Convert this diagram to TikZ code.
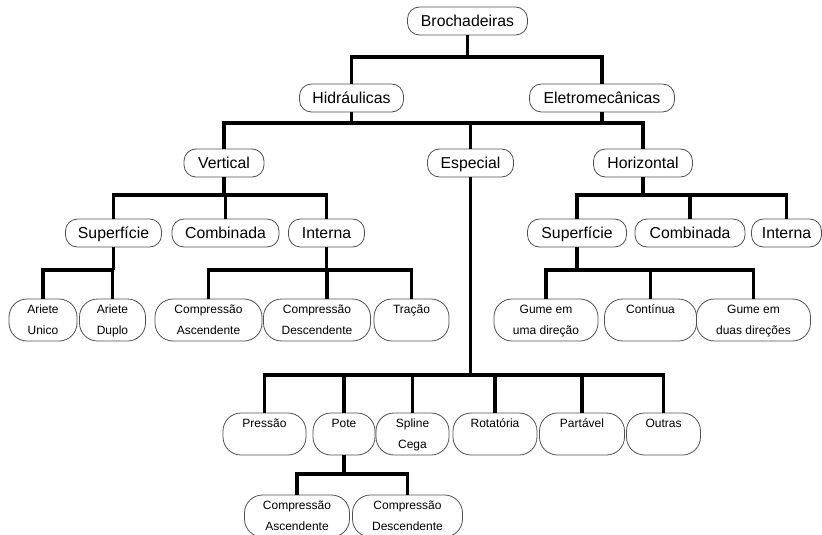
\documentclass[tikz,border=0pt]{standalone}
\usepackage{fontspec}
\setmainfont{Liberation Sans}
\definecolor{boxc}{HTML}{505050}
\newcommand\bst[1]{\rule[-8.3pt]{0pt}{28pt}#1}
\newcommand\sst[1]{\rule[-6.5pt]{0pt}{21pt}#1}
\begin{document}
\begin{tikzpicture}[x=1pt,y=-1pt,
  big/.style={draw=boxc, line width=0.8pt, rounded corners=12pt, inner sep=0pt, outer sep=0pt,
    font=\fontsize{15.8}{19}\selectfont, minimum height=28pt},
  small/.style={draw=boxc, line width=0.8pt, rounded corners=18pt, inner sep=0pt, outer sep=0pt,
    align=center, font=\fontsize{12}{21}\selectfont, minimum height=42pt},
  conn/.style={line width=3.2pt, line join=miter}]
\useasboundingbox (0,0) rectangle (822,535);
% bus levels
\coordinate (y57) at (0,57);
\coordinate (y123) at (0,123);
\coordinate (y195) at (0,195);
\coordinate (y270) at (0,270);
\coordinate (y375) at (0,375);
\coordinate (y474) at (0,474);
% level 0-2
\node[big, minimum width=120pt] (broch) at (467.5,21) {\bst{Brochadeiras}};
\node[big, minimum width=104pt] (hid) at (351.5,98) {\bst{Hidráulicas}};
\node[big, minimum width=145pt] (ele) at (602,98) {\bst{Eletromecânicas}};
\node[big, minimum width=80pt] (vert) at (224,163) {\bst{Vertical}};
\node[big, minimum width=86pt] (esp) at (470.5,163) {\bst{Especial}};
\node[big, minimum width=99pt] (hor) at (643,163) {\bst{Horizontal}};
% level 3
\node[big, minimum width=96pt] (sup1) at (113.5,233) {\bst{Superfície}};
\node[big, minimum width=107pt] (comb1) at (225.5,233) {\bst{Combinada}};
\node[big, minimum width=76pt] (int1) at (326.5,233) {\bst{Interna}};
\node[big, minimum width=99pt] (sup2) at (577,233) {\bst{Superfície}};
\node[big, minimum width=110pt] (comb2) at (690,233) {\bst{Combinada}};
\node[big, minimum width=70pt] (int2) at (786.5,233) {\bst{Interna}};
% level 4
\node[small, minimum width=68pt] (au) at (43,320) {\sst{Ariete}\\\sst{Unico}};
\node[small, minimum width=66pt] (ad) at (112.5,320) {\sst{Ariete}\\\sst{Duplo}};
\node[small, minimum width=107pt] (ca1) at (208.5,320) {\sst{Compressão}\\\sst{Ascendente}};
\node[small, minimum width=107pt] (cd1) at (317,320) {\sst{Compressão}\\\sst{Descendente}};
\node[small, minimum width=75pt] (tr) at (411.5,320) {\sst{Tração}\\\sst{}};
\node[small, minimum width=104pt] (g1) at (546,320) {\sst{Gume em}\\\sst{uma direção}};
\node[small, minimum width=92pt] (cont) at (650.5,320) {\sst{Contínua}\\\sst{}};
\node[small, minimum width=114pt] (g2) at (753.5,320) {\sst{Gume em}\\\sst{duas direções}};
% especial children
\node[small, minimum width=83pt] (pres) at (264.5,434) {\sst{Pressão}\\\sst{}};
\node[small, minimum width=62pt] (pote) at (344,434) {\sst{Pote}\\\sst{}};
\node[small, minimum width=73pt] (spl) at (412.5,434) {\sst{Spline}\\\sst{Cega}};
\node[small, minimum width=84pt] (rot) at (495,434) {\sst{Rotatória}\\\sst{}};
\node[small, minimum width=85pt] (part) at (582,434) {\sst{Partável}\\\sst{}};
\node[small, minimum width=74pt] (out) at (663.5,434) {\sst{Outras}\\\sst{}};
\node[small, minimum width=105pt] (ca2) at (297,516) {\sst{Compressão}\\\sst{Ascendente}};
\node[small, minimum width=110pt] (cd2) at (407.5,516) {\sst{Compressão}\\\sst{Descendente}};
\coordinate (cd1d) at ([xshift=10pt]cd1.north);
% connectors
\draw[conn] (broch.south) -- (broch.south |- y57);
\draw[conn] (hid.north) -- (hid.north |- y57) -- (ele.north |- y57) -- (ele.north);
\draw[conn] (hid.south) -- (hid.south |- y123);
\draw[conn] (ele.south) -- (ele.south |- y123);
\draw[conn] (vert.north) -- (vert.north |- y123) -- (hor.north |- y123) -- (hor.north);
\draw[conn] (esp.north) -- (esp.north |- y123);
\draw[conn] (vert.south) -- (vert.south |- y195);
\draw[conn] (sup1.north) -- (sup1.north |- y195) -- (int1.north |- y195) -- (int1.north);
\draw[conn] (comb1.north) -- (comb1.north |- y195);
\draw[conn] (sup1.south) -- (sup1.south |- y270);
\draw[conn] (au.north) -- (au.north |- y270) -- (ad.north |- y270) -- (ad.north);
\draw[conn] (int1.south) -- (int1.south |- y270);
\draw[conn] (ca1.north) -- (ca1.north |- y270) -- (tr.north |- y270) -- (tr.north);
\draw[conn] (cd1d) -- (cd1d |- y270);
\draw[conn] (hor.south) -- (hor.south |- y195);
\draw[conn] (sup2.north) -- (sup2.north |- y195) -- (int2.north |- y195) -- (int2.north);
\draw[conn] (comb2.north) -- (comb2.north |- y195);
\draw[conn] (sup2.south) -- (sup2.south |- y270);
\draw[conn] (g1.north) -- (g1.north |- y270) -- (g2.north |- y270) -- (g2.north);
\draw[conn] (cont.north) -- (cont.north |- y270);
\draw[conn] (esp.south) -- (esp.south |- y375);
\draw[conn] (pres.north) -- (pres.north |- y375) -- (out.north |- y375) -- (out.north);
\draw[conn] (pote.north) -- (pote.north |- y375);
\draw[conn] (spl.north) -- (spl.north |- y375);
\draw[conn] (rot.north) -- (rot.north |- y375);
\draw[conn] (part.north) -- (part.north |- y375);
\draw[conn] (pote.south) -- (pote.south |- y474);
\draw[conn] (ca2.north) -- (ca2.north |- y474) -- (cd2.north |- y474) -- (cd2.north);
\end{tikzpicture}
\end{document}
